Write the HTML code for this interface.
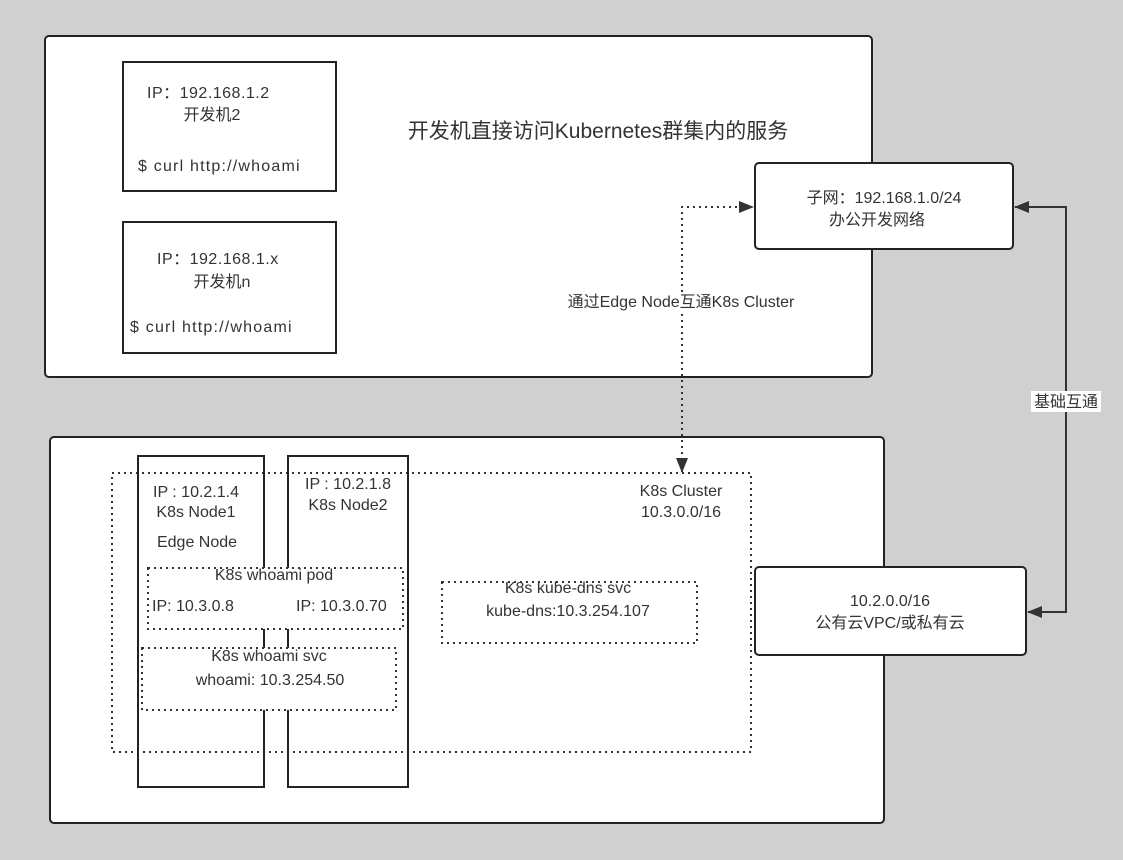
<!DOCTYPE html>
<html><head><meta charset="utf-8"><style>
html,body{margin:0;padding:0;background:#d0d0d0;}
svg{display:block;}
text{font-family:"Liberation Sans","Noto Sans CJK SC",sans-serif;font-size:16px;fill:#333;}
</style></head><body>
<svg width="1123" height="860" viewBox="0 0 1123 860" xmlns="http://www.w3.org/2000/svg">
<defs>
<marker id="a" markerWidth="15" markerHeight="12" refX="14" refY="6" orient="auto-start-reverse" markerUnits="userSpaceOnUse">
<path d="M0,0 L15,6 L0,12 z" fill="#333"/></marker>
</defs>
<rect width="1123" height="860" fill="#d0d0d0"/>
<!-- top container -->
<rect x="45" y="36" width="827" height="341" rx="4" fill="#fff" stroke="#222" stroke-width="2"/>
<rect x="123" y="62" width="213" height="129" fill="#fff" stroke="#222" stroke-width="2"/>
<rect x="123" y="222" width="213" height="131" fill="#fff" stroke="#222" stroke-width="2"/>
<text x="147" y="98" style="letter-spacing:0.5px">IP：192.168.1.2</text>
<text x="212" y="120" text-anchor="middle">开发机2</text>
<text x="138" y="171" style="letter-spacing:1.2px">$ curl http://whoami</text>
<text x="157" y="264" style="letter-spacing:0.5px">IP：192.168.1.x</text>
<text x="222" y="287" text-anchor="middle">开发机n</text>
<text x="130" y="332" style="letter-spacing:1.2px">$ curl http://whoami</text>
<text x="598" y="138" text-anchor="middle" style="font-size:21px">开发机直接访问Kubernetes群集内的服务</text>
<rect x="552" y="292" width="258" height="20" fill="#fff"/>
<!-- bottom container -->
<rect x="50" y="437" width="834" height="386" rx="4" fill="#fff" stroke="#222" stroke-width="2"/>
<rect x="138" y="456" width="126" height="331" fill="#fff" stroke="#222" stroke-width="2"/>
<rect x="288" y="456" width="120" height="331" fill="#fff" stroke="#222" stroke-width="2"/>
<path d="M112,473 H751 V752 H112 Z" fill="none" stroke="#333" stroke-width="2" stroke-dasharray="2,4"/>
<rect x="138" y="456" width="126" height="331" fill="none" stroke="#222" stroke-width="2"/>
<rect x="288" y="456" width="120" height="331" fill="none" stroke="#222" stroke-width="2"/>
<text x="196" y="497" text-anchor="middle">IP : 10.2.1.4</text>
<text x="196" y="517" text-anchor="middle">K8s Node1</text>
<text x="197" y="547" text-anchor="middle">Edge Node</text>
<text x="348" y="489" text-anchor="middle">IP : 10.2.1.8</text>
<text x="348" y="510" text-anchor="middle">K8s Node2</text>
<rect x="148" y="568" width="255" height="61" fill="#fff" stroke="#333" stroke-width="2" stroke-dasharray="2,4"/>
<text x="274" y="580" text-anchor="middle">K8s whoami pod</text>
<text x="152" y="611">IP: 10.3.0.8</text>
<text x="296" y="611">IP: 10.3.0.70</text>
<rect x="142" y="648" width="254" height="62" fill="#fff" stroke="#333" stroke-width="2" stroke-dasharray="2,4"/>
<text x="269" y="661" text-anchor="middle">K8s whoami svc</text>
<text x="270" y="685" text-anchor="middle">whoami: 10.3.254.50</text>
<rect x="442" y="582" width="255" height="61" fill="#fff" stroke="#333" stroke-width="2" stroke-dasharray="2,4"/>
<text x="568" y="593" text-anchor="middle">K8s kube-dns svc</text>
<text x="568" y="616" text-anchor="middle">kube-dns:10.3.254.107</text>
<text x="681" y="496" text-anchor="middle">K8s Cluster</text>
<text x="681" y="517" text-anchor="middle">10.3.0.0/16</text>
<!-- right boxes -->
<rect x="755" y="163" width="258" height="86" rx="4" fill="#fff" stroke="#222" stroke-width="2"/>
<text x="884" y="203" text-anchor="middle">子网：192.168.1.0/24</text>
<text x="877" y="225" text-anchor="middle">办公开发网络</text>
<rect x="755" y="567" width="271" height="88" rx="4" fill="#fff" stroke="#222" stroke-width="2"/>
<text x="890" y="606" text-anchor="middle">10.2.0.0/16</text>
<text x="890" y="628" text-anchor="middle">公有云VPC/或私有云</text>
<!-- connectors -->
<path d="M682,472 V207 H753" fill="none" stroke="#333" stroke-width="2" stroke-dasharray="2,4" marker-start="url(#a)" marker-end="url(#a)"/>
<rect x="552" y="292" width="258" height="20" fill="#fff"/>
<text x="681" y="307" text-anchor="middle">通过Edge Node互通K8s Cluster</text>
<path d="M1015,207 H1066 V612 H1028" fill="none" stroke="#333" stroke-width="2" marker-start="url(#a)" marker-end="url(#a)"/>
<rect x="1031" y="391" width="70" height="21" fill="#fff"/>
<text x="1066" y="407" text-anchor="middle">基础互通</text>
</svg>
</body></html>
